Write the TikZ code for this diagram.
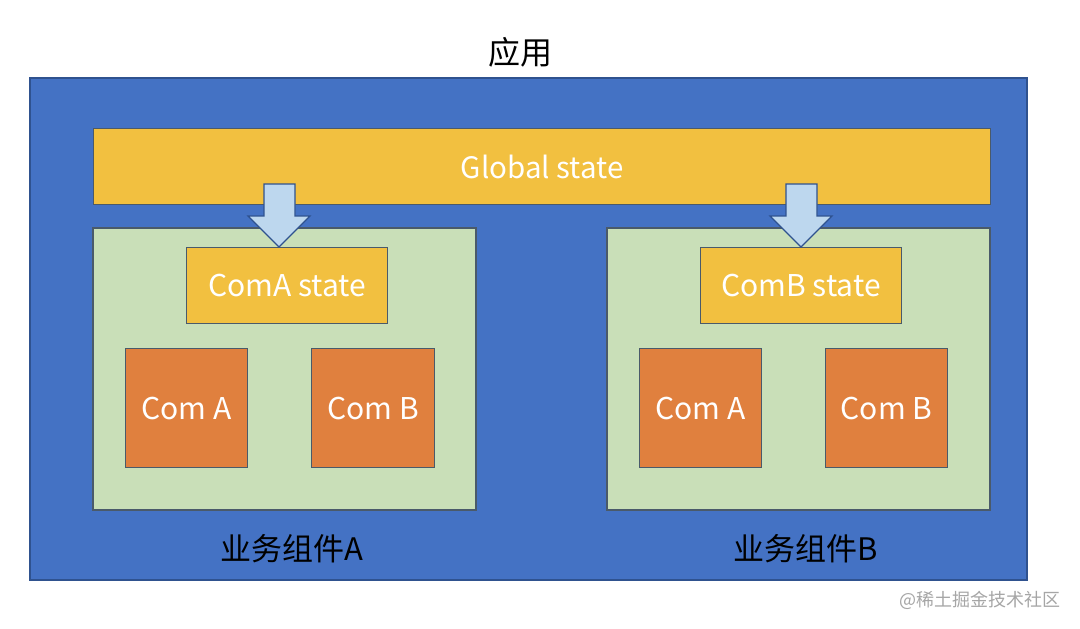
\documentclass[tikz,border=0pt]{standalone}
\usepackage{fontspec}
\setmainfont{Noto Sans CJK SC}
\newfontfamily\cjk{Noto Sans CJK SC}
\definecolor{appblue}{HTML}{4472C4}
\definecolor{edgeblue}{HTML}{2F528F}
\definecolor{stateyel}{HTML}{F2C040}
\definecolor{panelgrn}{HTML}{C9DFB8}
\definecolor{comorg}{HTML}{E0803E}
\definecolor{arrblue}{HTML}{BDD7EE}
\definecolor{edgegray}{HTML}{4A5A6A}
\tikzset{
  box/.style={draw=edgegray, line width=1.2pt, inner sep=0pt, text=white, font=\cjk\fontsize{30}{34}\selectfont},
  statebox/.style={box, fill=stateyel},
  combox/.style={box, fill=comorg},
  panel/.style={draw=edgegray, line width=1.2pt, fill=panelgrn},
  downarrow/.style={draw=edgeblue, line width=1.2pt, fill=arrblue, line join=miter},
  caption/.style={text=black, font=\cjk\fontsize{31}{34}\selectfont},
}
\begin{document}
\begin{tikzpicture}[x=1pt,y=-1pt]
\useasboundingbox (0,0) rectangle (1080,629);
\fill[white] (0,0) rectangle (1080,629);
% title
\node[caption, font=\cjk\fontsize{32}{36}\selectfont] (title) at (520,52) {应用};
% outer app box
\draw[fill=appblue, draw=edgeblue, line width=1.2pt] (30,78) rectangle (1027,580);
% global state
\node[statebox, font=\cjk\fontsize{29.5}{34}\selectfont, minimum width=897pt, minimum height=76pt, anchor=north west] (global) at (93,128) {Global state};
% panels
\draw[panel] (93,228) rectangle (476,510);
\draw[panel] (607,228) rectangle (990,510);
% component states
\node[statebox, minimum width=201pt, minimum height=76pt, anchor=north west] (astate) at (186,247) {ComA state};
\node[statebox, minimum width=201pt, minimum height=76pt, anchor=north west] (bstate) at (700,247) {ComB state};
% components
\node[combox, minimum width=122pt, minimum height=119pt, anchor=north west] (a1) at (125,348) {Com A};
\node[combox, minimum width=123pt, minimum height=119pt, anchor=north west] (a2) at (311,348) {Com B};
\node[combox, minimum width=122pt, minimum height=119pt, anchor=north west] (b1) at (639,348) {Com A};
\node[combox, minimum width=122pt, minimum height=119pt, anchor=north west] (b2) at (825,348) {Com B};
% arrows
\draw[downarrow] (264,184) -- (295,184) -- (295,216) -- (310,216) -- (279,247) -- (248,216) -- (264,216) -- cycle;
\draw[downarrow] (786,184) -- (817,184) -- (817,216) -- (832,216) -- (801,247) -- (770,216) -- (786,216) -- cycle;
% captions
\node[caption] (capa) at (292,549) {业务组件A};
\node[caption] (capb) at (806,549) {业务组件B};
% watermark
\node[text=gray!70, font=\cjk\fontsize{18}{21}\selectfont] (wm) at (980,600) {@稀土掘金技术社区};
\end{tikzpicture}
\end{document}
